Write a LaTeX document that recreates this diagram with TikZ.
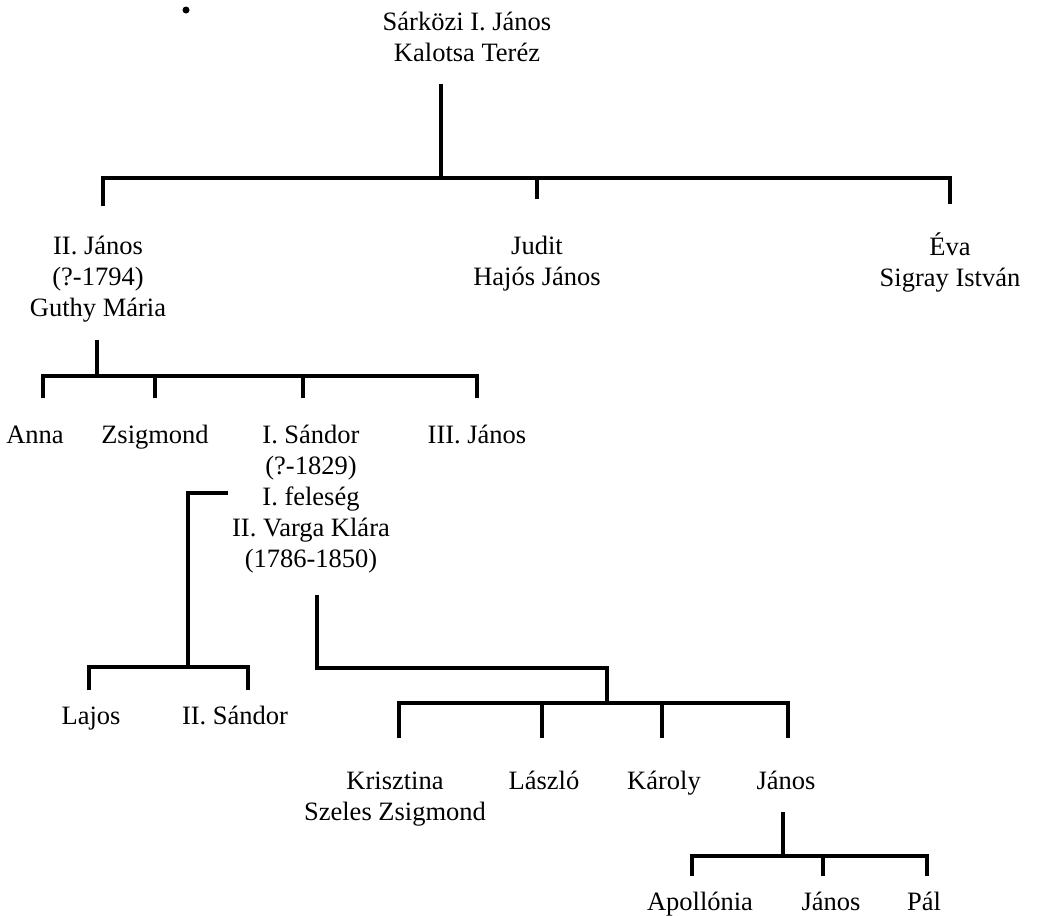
\documentclass[tikz,border=0pt]{standalone}
\usepackage{fontspec}
\setmainfont{Liberation Serif}
\tikzset{
  person/.style={align=center, anchor=north, inner sep=0pt, yshift=21.7pt,
                 font=\fontsize{26.5}{31}\selectfont},
  famline/.style={line width=4.3pt, line join=miter, line cap=butt},
}
\begin{document}
\begin{tikzpicture}[x=1pt,y=-1pt]
\useasboundingbox (0,0) rectangle (1037,916);
\fill (186,10) circle (3.5);

% ---- persons (positions are baselines of first line)
\node[person] (sj) at (467,30) {\strut Sárközi I. János\\\strut Kalotsa Teréz};
\node[person] (j2) at (98,254) {\strut II. János\\\strut (?-1794)\\\strut Guthy Mária};
\node[person] (judit) at (537,254) {\strut Judit\\\strut Hajós János};
\node[person] (eva) at (950,254) {\strut Éva\\\strut Sigray István};
\node[person] (anna) at (35,443) {\strut Anna};
\node[person] (zsig) at (155,443) {\strut Zsigmond};
\node[person] (s1) at (311,443) {\strut I. Sándor\\\strut (?-1829)\\\strut I. feleség\\\strut II. Varga Klára\\\strut (1786-1850)};
\node[person] (j3) at (477,443) {\strut III. János};
\node[person] (lajos) at (91,724) {\strut Lajos};
\node[person] (s2) at (235,724) {\strut II. Sándor};
\node[person] (kriszt) at (395,789) {\strut Krisztina\\\strut Szeles Zsigmond};
\node[person] (laszlo) at (544,789) {\strut László};
\node[person] (karoly) at (664,789) {\strut Károly};
\node[person] (j4) at (786,789) {\strut János};
\node[person] (apoll) at (700,910) {\strut Apollónia};
\node[person] (j5) at (831,910) {\strut János};
\node[person] (pal) at (924,910) {\strut Pál};

% ---- connector points
\coordinate (sj-d) at (441,84);
\coordinate (sj-h) at (441,178);
\coordinate (j2-u) at (103,206);
\coordinate (judit-u) at (537,199);
\coordinate (eva-u) at (950,204);

\coordinate (j2-d) at (97,340);
\coordinate (j2-h) at (97,376);
\coordinate (anna-u) at (43,398);
\coordinate (zsig-u) at (155,398);
\coordinate (s1-u) at (303,398);
\coordinate (j3-u) at (477,398);

\coordinate (s1-w) at (228,493);
\coordinate (s1-wh) at (188,667);
\coordinate (lajos-u) at (89,690);
\coordinate (s2-u) at (248,690);

\coordinate (s1-d) at (317,595);
\coordinate (s1-dh) at (607,668);
\coordinate (s1-dh2) at (607,703);
\coordinate (kriszt-u) at (399,738);
\coordinate (laszlo-u) at (542,738);
\coordinate (karoly-u) at (662,738);
\coordinate (j4-u) at (788,738);

\coordinate (j4-d) at (783,812);
\coordinate (j4-h) at (783,856);
\coordinate (apoll-u) at (692,876);
\coordinate (j5-u) at (823,876);
\coordinate (pal-u) at (927,876);

% ---- connectors
\draw[famline] (sj-d) -- (sj-h);
\draw[famline] (j2-u) |- (sj-h) -| (eva-u);
\draw[famline] (judit-u) -- (judit-u |- sj-h);

\draw[famline] (j2-d) -- (j2-h);
\draw[famline] (anna-u) |- (j2-h) -| (j3-u);
\draw[famline] (zsig-u) -- (zsig-u |- j2-h);
\draw[famline] (s1-u) -- (s1-u |- j2-h);

\draw[famline] (s1-w) -| (s1-wh);
\draw[famline] (lajos-u) |- (s1-wh) -| (s2-u);

\draw[famline] (s1-d) |- (s1-dh) -- (s1-dh2);
\draw[famline] (kriszt-u) |- (s1-dh2) -| (j4-u);
\draw[famline] (laszlo-u) -- (laszlo-u |- s1-dh2);
\draw[famline] (karoly-u) -- (karoly-u |- s1-dh2);

\draw[famline] (j4-d) -- (j4-h);
\draw[famline] (apoll-u) |- (j4-h) -| (pal-u);
\draw[famline] (j5-u) -- (j5-u |- j4-h);
\end{tikzpicture}
\end{document}
